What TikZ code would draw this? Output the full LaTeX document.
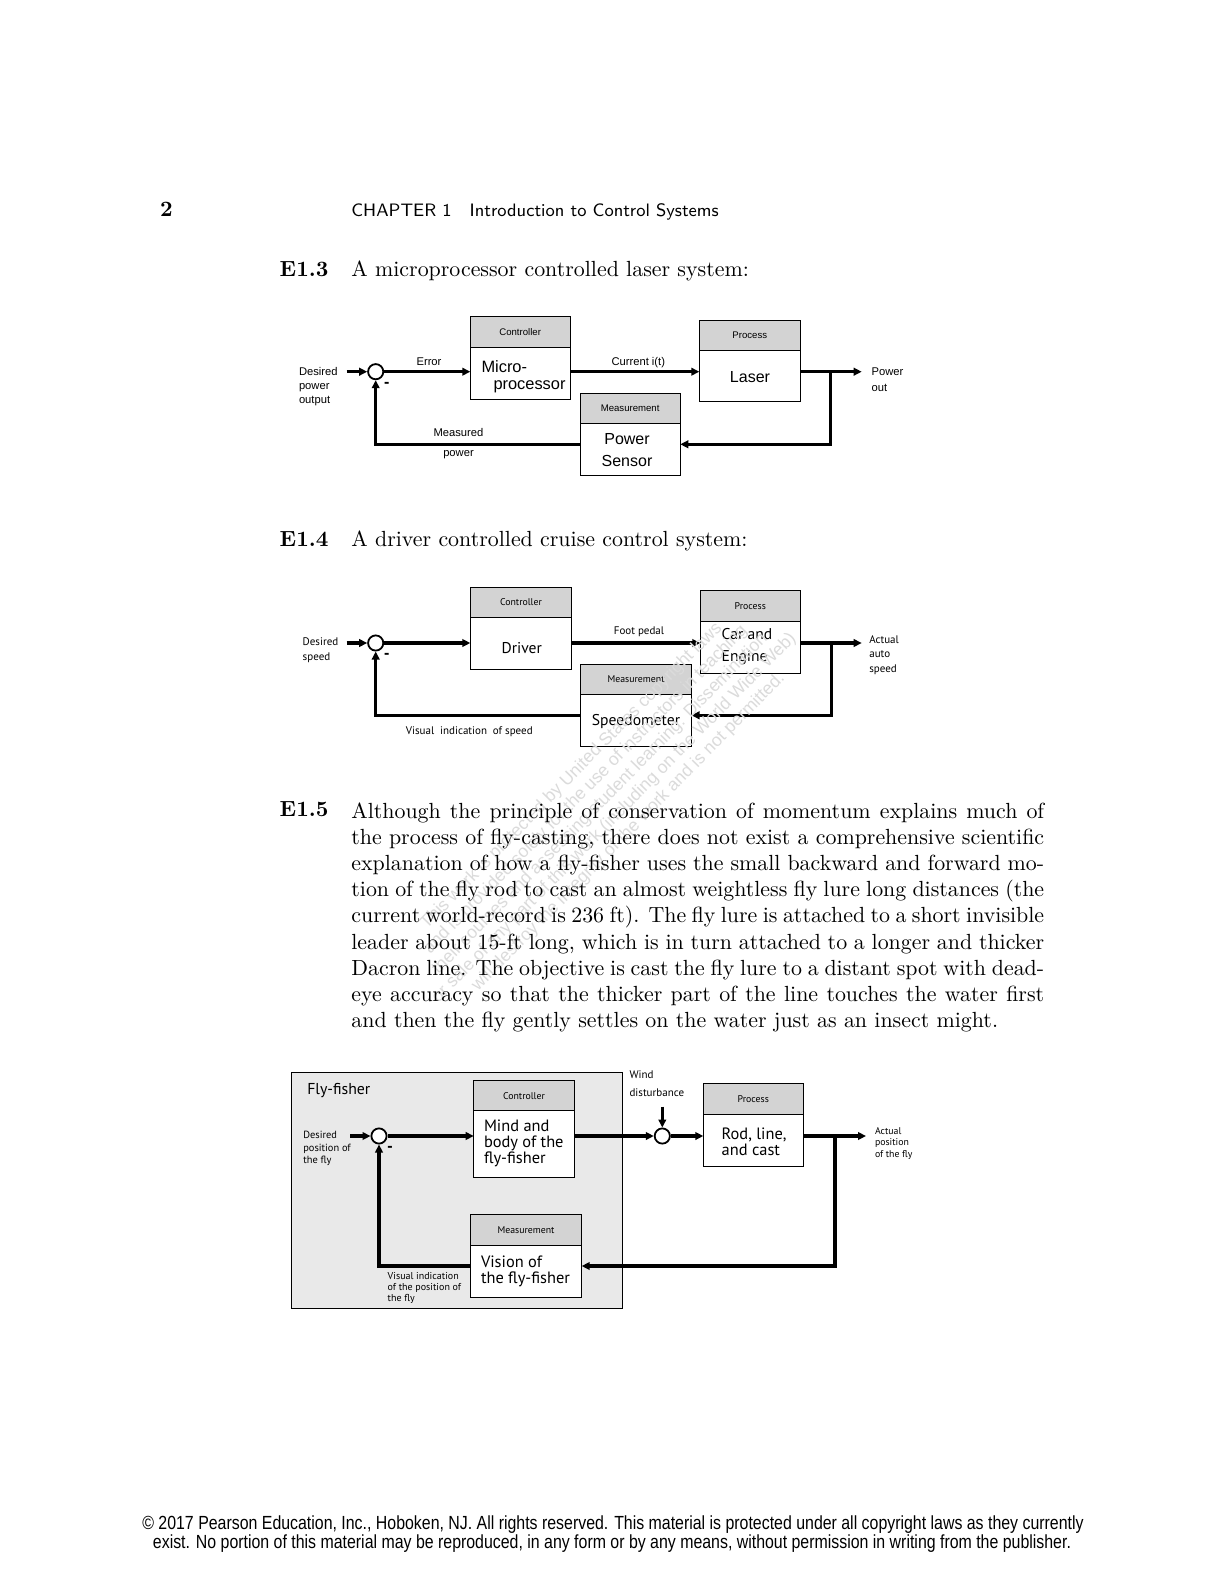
\documentclass[tikz,border=0pt]{standalone}
\usepackage{fontspec}
\usetikzlibrary{arrows.meta,calc}
\newfontfamily\arialf{Liberation Sans}
\newfontfamily\myrf{PT Sans}
\newfontfamily\footf[FakeStretch=0.837]{Liberation Sans}
\definecolor{hdrgray}{RGB}{211,211,211}
\definecolor{boxgray}{RGB}{233,233,233}
\tikzset{
  conn/.style={line width=1.6pt},
  arr/.style={conn,-{Triangle[length=4pt,width=3.8pt]}},
  hdr/.style={draw,line width=0.5pt,fill=hdrgray,inner sep=0pt,outer sep=0pt,anchor=north west},
  bod/.style={draw,line width=0.5pt,fill=white,inner sep=0pt,outer sep=0pt,anchor=north west},
  sumj/.style={circle,draw,line width=0.9pt,fill=white,minimum size=7.6pt,inner sep=0pt},
  txt/.style={inner sep=0pt,outer sep=0pt},
  ahead/.style={txt,font=\arialf\fontsize{4.8}{5.5}\selectfont},
  amain/.style={txt,font=\arialf\fontsize{8}{11}\selectfont},
  alab/.style={txt,font=\arialf\fontsize{5.6}{7}\selectfont},
  mhead/.style={txt,font=\myrf\fontsize{4.9}{5.5}\selectfont},
  mmain/.style={txt,font=\myrf\fontsize{7.8}{11.2}\selectfont},
  mlab/.style={txt,font=\myrf\fontsize{5.5}{7.3}\selectfont},
  fmain/.style={txt,font=\myrf\fontsize{8.2}{7.9}\selectfont},
  minus/.style={txt,font=\arialf\bfseries\fontsize{8}{8}\selectfont},
  serif/.style={txt,font=\fontsize{10.95}{13.1}\selectfont},
  serifb/.style={txt,font=\bfseries\fontsize{10.95}{13.1}\selectfont},
}
\begin{document}
\begin{tikzpicture}[x=0.5pt,y=-0.5pt]
\useasboundingbox (0,0) rectangle (1224,1584);
\fill[white] (0,0) rectangle (1224,1584);

% ---------- page header ----------
\node[serifb,anchor=base west] (pgnum) at (160,216) {2};
\node[txt,anchor=base west,font=\sffamily\fontsize{9}{11}\selectfont] (runhead) at (351.4,216) {CHAPTER 1\quad Introduction to Control Systems};

% ---------- E1.3 ----------
\node[serifb,anchor=base west] (e13) at (279.7,276) {E1.3};
\node[serif,anchor=base west] (e13t) at (351.4,276) {A microprocessor controlled laser system:};

\node[hdr,minimum width=49.85pt,minimum height=15.65pt] (c3h) at (470.3,316) {};
\node[bod,minimum width=49.85pt,minimum height=26pt] (c3b) at (470.3,347.3) {};
\node[hdr,minimum width=50.5pt,minimum height=15pt] (p3h) at (699.3,320.7) {};
\node[bod,minimum width=50.5pt,minimum height=25.5pt] (p3b) at (699.3,350.7) {};
\node[hdr,minimum width=50.15pt,minimum height=14.8pt] (m3h) at (580,393.7) {};
\node[bod,minimum width=50.15pt,minimum height=25.85pt] (m3b) at (580,423.3) {};
\node[ahead] (c3ht) at (c3h.center) {Controller};
\node[ahead] (p3ht) at (p3h.center) {Process};
\node[ahead] (m3ht) at (m3h.center) {Measurement};
\node[amain,align=left,font=\arialf\fontsize{8.2}{8.4}\selectfont] (c3bt) at (523.5,376.6) {Micro-\\\hspace*{6pt}processor};
\node[amain] (p3bt) at (750,376.7) {Laser};
\node[amain,align=center] (m3bt) at (627,450.5) {Power\\Sensor};

\node[sumj] (s3) at (375.7,371.7) {};
\coordinate (in3) at (346.7,371.7);
\coordinate (out3) at (861.7,371.7);
\coordinate (br3) at (830.7,371.7);
\coordinate (fb3) at (830.7,444.3);
\draw[arr] (in3) -- (s3.west);
\draw[arr] (s3.east) -- (s3.east -| c3b.west);
\draw[arr] (c3b.east |- s3.center) -- (p3b.west |- s3.center);
\draw[arr] (p3b.east |- s3.center) -- (out3);
\draw[arr] (br3) |- (fb3 -| m3b.east);
\draw[arr] (fb3 -| m3b.west) -| (s3.south);

\node[alab,anchor=west,align=left] (l3in) at (299,386.7) {Desired\\power\\output};
\node[alab] (l3err) at (429,362) {Error};
\node[alab] (l3cur) at (638.3,362.7) {Current i(t)};
\node[alab,anchor=west,align=left,font=\arialf\fontsize{5.6}{8}\selectfont] (l3out) at (871.7,379.7) {Power\\out};
\node[alab,align=center,font=\arialf\fontsize{5.6}{10}\selectfont] (l3fb) at (458.5,444) {Measured\\power};
\node[minus] (l3m) at (386.7,385) {-};

% ---------- E1.4 ----------
\node[serifb,anchor=base west] (e14) at (279.7,546) {E1.4};
\node[serif,anchor=base west] (e14t) at (351.4,546) {A driver controlled cruise control system:};

\node[hdr,minimum width=50.7pt,minimum height=15pt] (c4h) at (470.3,587.3) {};
\node[bod,minimum width=50.7pt,minimum height=26pt] (c4b) at (470.3,617.3) {};
\node[hdr,minimum width=50pt,minimum height=15.5pt] (p4h) at (700.3,590.7) {};
\node[bod,minimum width=50pt,minimum height=25.8pt] (p4b) at (700.3,621.7) {};
\node[hdr,minimum width=55.4pt,minimum height=15pt] (m4h) at (580.7,664.3) {};
\node[bod,minimum width=55.4pt,minimum height=25.85pt] (m4b) at (580.7,694.3) {};
\node[mhead] (c4ht) at (c4h.center) {Controller};
\node[mhead] (p4ht) at (p4h.center) {Process};
\node[mhead] (m4ht) at (m4h.center) {Measurement};
\node[mmain] (c4bt) at (521.7,648.3) {Driver};
\node[mmain,anchor=west,align=left] (p4bt) at (721.7,646.5) {Car and\\Engine};
\node[mmain] (m4bt) at (636,721) {Speedometer};

\node[sumj] (s4) at (375.7,643) {};
\coordinate (in4) at (346.7,643);
\coordinate (out4) at (861.7,643);
\coordinate (br4) at (831.7,643);
\coordinate (fb4) at (831.7,715.3);
\draw[arr] (in4) -- (s4.west);
\draw[arr] (s4.east) -- (s4.east -| c4b.west);
\draw[arr] (c4b.east |- s4.center) -- (p4b.west |- s4.center);
\draw[arr] (p4b.east |- s4.center) -- (out4);
\draw[arr] (br4) |- (fb4 -| m4b.east);
\draw[arr] (fb4 -| m4b.west) -| (s4.south);

\node[mlab,anchor=west,align=left] (l4in) at (302.7,650) {Desired\\speed};
\node[mlab] (l4ped) at (639,631.7) {Foot pedal};
\node[mlab,anchor=west,align=left,font=\myrf\fontsize{5.5}{7.2}\selectfont] (l4out) at (869.3,655) {Actual\\auto\\speed};
\node[mlab] (l4fb) at (469.3,731.3) {Visual\ \ indication\ \ of speed};
\node[minus] (l4m) at (386.7,656) {-};

% ---------- watermark ----------
\node[txt,rotate=45.5,align=center,text=gray!28,font=\arialf\fontsize{8.8}{10}\selectfont] (wmark) at (600,804) {This work is protected by United States copyright laws\\and is provided solely for the use of instructors in teaching\\their courses and assessing student learning. Dissemination\\or sale of any part of this work (including on the World Wide Web)\\will destroy the integrity of the work and is not permitted.};

% ---------- E1.5 ----------
\node[serifb,anchor=base west] (e15) at (279.7,816.5) {E1.5};
\node[serif,anchor=north west,text width=346.4pt,align=justify] (e15t) at (351.4,802.5) {\hyphenpenalty=10000\tolerance=9999
Although the principle of conservation of momentum explains much of\linebreak
the process of fly-casting, there does not exist a comprehensive scientific\linebreak
explanation of how a fly-fisher uses the small backward and forward mo-\linebreak
tion of the fly rod to cast an almost weightless fly lure long distances (the\linebreak
current world-record is 236 ft). The fly lure is attached to a short invisible\linebreak
leader about 15-ft long, which is in turn attached to a longer and thicker\linebreak
Dacron line. The objective is cast the fly lure to a distant spot with dead-\linebreak
eye accuracy so that the thicker part of the line touches the water first\linebreak
and then the fly gently settles on the water just as an insect might.};

\node[draw,line width=0.5pt,fill=boxgray,anchor=north west,minimum width=165.8pt,minimum height=118pt,inner sep=0pt] (ffbox) at (290.7,1072.3) {};
\node[txt,anchor=west,font=\myrf\fontsize{7.9}{9}\selectfont] (fflab) at (307.3,1091) {Fly-fisher};

\node[hdr,minimum width=50.3pt,minimum height=15pt] (c5h) at (473.7,1080.7) {};
\node[bod,minimum width=50.3pt,minimum height=33.3pt] (c5b) at (473.7,1110.7) {};
\node[hdr,minimum width=55.7pt,minimum height=15.35pt] (m5h) at (470.3,1214.3) {};
\node[bod,minimum width=55.7pt,minimum height=26.15pt] (m5b) at (470.3,1245) {};
\node[hdr,minimum width=50pt,minimum height=15.5pt] (p5h) at (703.3,1083.3) {};
\node[bod,minimum width=50pt,minimum height=25.85pt] (p5b) at (703.3,1114.3) {};
\node[mhead] (c5ht) at (c5h.center) {Controller};
\node[mhead] (m5ht) at (m5h.center) {Measurement};
\node[mhead] (p5ht) at (p5h.center) {Process};
\node[fmain,anchor=west,align=left] (c5bt) at (484,1143.5) {Mind and\\body of the\\fly-fisher};
\node[fmain,anchor=west,align=left,font=\myrf\fontsize{8.2}{8.3}\selectfont] (m5bt) at (481,1271.5) {Vision of\\the fly-fisher};
\node[fmain,anchor=west,align=left] (p5bt) at (721.7,1141.5) {Rod, line,\\and cast};

\node[sumj] (s5) at (379,1136) {};
\node[sumj] (w5) at (662.3,1136) {};
\coordinate (in5) at (350,1136);
\coordinate (wd5) at (662.3,1106.7);
\coordinate (out5) at (866,1136);
\coordinate (br5) at (835,1136);
\coordinate (fb5) at (835,1266);
\draw[arr] (in5) -- (s5.west);
\draw[arr] (s5.east) -- (s5.east -| c5b.west);
\draw[arr] (c5b.east |- s5.center) -- (w5.west);
\draw[arr] (wd5) -- (w5.north);
\draw[arr] (w5.east) -- (p5b.west |- w5.center);
\draw[arr] (p5b.east |- w5.center) -- (out5);
\draw[arr] (br5) |- (fb5 -| m5b.east);
\draw[arr] (fb5 -| m5b.west) -| (s5.south);

\node[mlab,anchor=west,align=left,font=\myrf\fontsize{5.2}{6.3}\selectfont] (l5in) at (303.3,1148.5) {Desired\\position of\\the fly};
\node[mlab,anchor=west,align=left,font=\myrf\fontsize{5.5}{9}\selectfont] (l5wd) at (629.5,1083.5) {Wind\\disturbance};
\node[mlab,anchor=west,align=left,font=\myrf\fontsize{4.9}{5.8}\selectfont] (l5out) at (875,1143.5) {Actual\\position\\of the fly};
\node[mlab,anchor=west,align=left,font=\myrf\fontsize{5}{5.5}\selectfont] (l5fb) at (387.7,1287.5) {Visual indication\\of the position of\\the fly};
\node[minus] (l5m) at (390,1149) {-};

% ---------- footer ----------
\node[txt,anchor=base,font=\footf\fontsize{9.5}{11}\selectfont] (foot1) at (613,1529) {© 2017 Pearson Education, Inc., Hoboken, NJ. All rights reserved. This material is protected under all copyright laws as they currently};
\node[txt,anchor=base,font=\footf\fontsize{9.5}{11}\selectfont] (foot2) at (612,1548) {exist. No portion of this material may be reproduced, in any form or by any means, without permission in writing from the publisher.};
\end{tikzpicture}
\end{document}
